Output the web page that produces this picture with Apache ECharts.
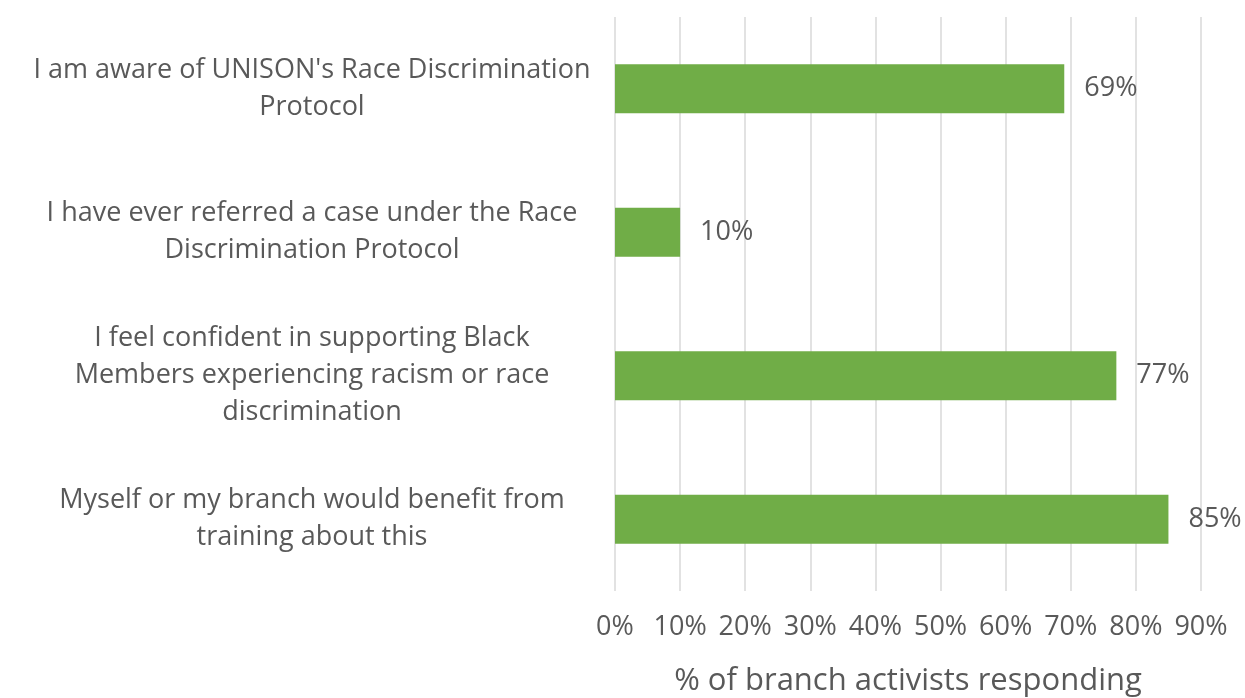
<!DOCTYPE html>
<html>
<head>
<meta charset="utf-8">
<style>
  html, body { margin: 0; padding: 0; background: #ffffff; }
  #chart { width: 1245px; height: 698px; }
</style>
<script src="https://cdn.jsdelivr.net/npm/echarts@6/dist/echarts.min.js"></script>
</head>
<body>
<div id="chart"></div>
<script>
// Survey statements (top to bottom) and share of activists agreeing
const categories = [
  "I am aware of UNISON's Race Discrimination\nProtocol",
  "I have ever referred a case under the Race\nDiscrimination Protocol",
  "I feel confident in supporting Black\nMembers experiencing racism or race\ndiscrimination",
  "Myself or my branch would benefit from\ntraining about this"
];
const values = [69, 10, 77, 85];
const axisTicks = [0, 10, 20, 30, 40, 50, 60, 70, 80, 90];
const axisTitle = "% of branch activists responding";

const textColor = '#595959';
const fontFamily = '"Open Sans", sans-serif';

const chart = echarts.init(document.getElementById('chart'), null, { renderer: 'canvas' });
chart.setOption({
  animation: false,
  grid: {
    left: 615, right: 44, top: 17, bottom: 107,
    containLabel: false, outerBoundsMode: 'none'
  },
  xAxis: {
    type: 'value',
    min: axisTicks[0],
    max: axisTicks[axisTicks.length - 1],
    interval: axisTicks[1] - axisTicks[0],
    axisLine: { show: false },
    axisTick: { show: false },
    splitLine: { show: true, lineStyle: { color: '#d9d9d9', width: 1.5 } },
    axisLabel: {
      color: textColor, fontFamily: fontFamily, fontSize: 27, margin: 23,
      formatter: v => v + '%'
    },
    name: axisTitle,
    nameLocation: 'middle',
    nameGap: 75,
    nameTextStyle: { color: textColor, fontFamily: fontFamily, fontSize: 31 }
  },
  yAxis: {
    type: 'category',
    inverse: true,
    data: categories,
    axisLine: { show: false },
    axisTick: { show: false },
    splitLine: { show: false },
    axisLabel: {
      color: textColor, fontFamily: fontFamily, fontSize: 27,
      lineHeight: 37, align: 'center', margin: 303
    }
  },
  series: [{
    type: 'bar',
    data: values,
    barWidth: 49,
    itemStyle: { color: '#70ad47' },
    label: {
      show: true, position: 'right', distance: 20,
      color: textColor, fontFamily: fontFamily, fontSize: 27,
      formatter: p => p.value + '%'
    }
  }]
});
</script>
</body>
</html>
